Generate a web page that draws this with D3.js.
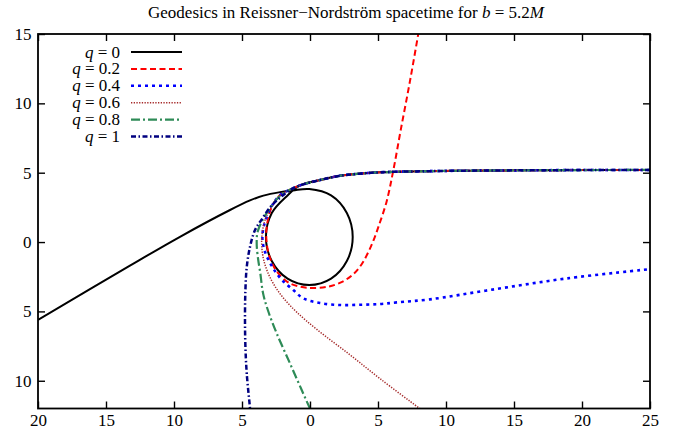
<!DOCTYPE html>
<html>
<head>
<meta charset="utf-8">
<script src="https://cdn.jsdelivr.net/npm/d3@7/dist/d3.min.js"></script>
<style>
  html, body { margin: 0; padding: 0; background: #fff; }
  svg { display: block; }
  text { font-family: "Liberation Serif", "Times New Roman", serif; fill: #000; }
</style>
</head>
<body>
<svg id="chart" width="678" height="429"></svg>
<script>
// Axis ranges and ticks
const xDomain = [-20, 25];
const yDomain = [-12, 15];
const xTicks = [-20, -15, -10, -5, 0, 5, 10, 15, 20, 25];
const yTicks = [-10, -5, 0, 5, 10, 15];

// Incoming path shared by all trajectories, arriving from the right at y ≈ b
const approach = [
  [25, 5.2], [20, 5.19], [15, 5.17], [11, 5.14], [8, 5.1], [5.15, 5.03],
  [3.5, 4.92], [2.2, 4.78], [0.74, 4.47], [-0.74, 4.08]
];

// q = 0: loop around the photon sphere, then escape to the lower left
const q0 = approach.concat([
  [-1.65, 3.36], [-2.81, 2.09], [-3.24, 0.36], [-2.81, -1.37], [-1.65, -2.64],
  [-0.05, -3.10], [1.55, -2.64], [2.71, -1.37], [3.14, 0.36], [2.71, 2.09],
  [1.55, 3.36], [-0.05, 3.82], [-1.25, 3.72], [-2.2, 3.6], [-3.43, 3.35],
  [-4.41, 3.0], [-5.88, 2.31], [-9.56, 0.38], [-13.24, -1.7], [-20, -5.62]
]);

// q = 0.2
const q02 = approach.concat([
  [-1.47, 3.78], [-2.2, 3.39], [-2.75, 2.65], [-3.05, 1.8], [-3.2, 0.9],
  [-3.2, 0.1], [-3.05, -0.8], [-2.75, -1.6], [-2.33, -2.26], [-1.47, -2.98],
  [-0.25, -3.29], [1.3, -3.22], [2.4, -2.85], [3.2, -2.3], [3.8, -1.6],
  [4.3, -0.7], [4.7, 0.2], [5.05, 1.15], [5.64, 2.95], [6.13, 5.19],
  [6.67, 8.07], [7.35, 11.6], [7.96, 15], [8.3, 17]
]);

// q = 0.4
const q04 = approach.concat([
  [-1.47, 3.78], [-2.2, 3.39], [-2.75, 2.7], [-3.15, 1.9], [-3.43, 0.99],
  [-3.5, 0.2], [-3.31, -0.7], [-2.94, -1.5], [-2.5, -2.2], [-2.0, -2.8],
  [-1.23, -3.46], [-0.49, -4.06], [0.74, -4.4], [2.2, -4.54], [3.7, -4.52],
  [5.15, -4.47], [6.37, -4.35], [8.82, -4.13], [13.2, -3.46], [18.9, -2.62],
  [25, -1.95]
]);

// q = 0.6
const q06 = approach.concat([
  [-1.47, 3.78], [-2.2, 3.37], [-2.8, 2.6], [-3.3, 1.6], [-3.52, 0.6],
  [-3.55, -0.2], [-3.43, -1.18], [-3.1, -2.2], [-2.57, -3.2], [-1.9, -4.1],
  [-0.98, -5.05], [0.5, -6.3], [2.9, -8.1], [5.15, -9.85], [7.96, -11.92],
  [8.5, -12.3]
]);

// q = 0.8
const q08 = approach.concat([
  [-1.47, 3.78], [-2.2, 3.33], [-2.9, 2.5], [-3.4, 1.75], [-3.85, 0.75],
  [-3.92, -0.1], [-3.82, -1.2], [-3.66, -2.2], [-3.45, -3.7], [-3.1, -4.9],
  [-2.45, -6.58], [-1.47, -8.75], [-0.61, -10.67], [0, -12], [0.2, -12.4]
]);

// q = 1
const q1 = approach.concat([
  [-1.47, 3.75], [-2.2, 3.2], [-2.94, 2.5], [-3.5, 1.7], [-4.04, 0.87],
  [-4.41, -0.34], [-4.65, -1.8], [-4.75, -3.5], [-4.78, -5.5], [-4.75, -7.5],
  [-4.65, -9.5], [-4.41, -12], [-4.38, -12.4]
]);

const seriesValues = ["0", "0.2", "0.4", "0.6", "0.8", "1"];
const seriesData = [q0, q02, q04, q06, q08, q1];

// Drawing styles for each series
const styles = [
  { color: "#000000", width: 2.0, dash: null },
  { color: "#ff0000", width: 2.0, dash: "6,3.5" },
  { color: "#0000ff", width: 2.6, dash: "3,4" },
  { color: "#a52a2a", width: 1.5, dash: "1.3,1.4" },
  { color: "#2e8b57", width: 2.2, dash: "9,3,2,3" },
  { color: "#000080", width: 2.5, dash: "5,2.5,1.5,2.5" }
];

const svg = d3.select("#chart");
const W = 678, H = 429;
const m = { left: 38, right: W - 650, top: 34, bottom: H - 408.5 };
const fontSize = "17px";

const x = d3.scaleLinear().domain(xDomain).range([m.left, W - m.right]);
const y = d3.scaleLinear().domain(yDomain).range([H - m.bottom, m.top]);

svg.append("defs").append("clipPath").attr("id", "plotclip")
  .append("rect")
  .attr("x", x(xDomain[0])).attr("y", y(yDomain[1]))
  .attr("width", x(xDomain[1]) - x(xDomain[0]))
  .attr("height", y(yDomain[0]) - y(yDomain[1]));

// Title
const title = svg.append("text")
  .attr("x", 346).attr("y", 17.5)
  .attr("text-anchor", "middle")
  .style("font-size", fontSize);
title.append("tspan").text("Geodesics in Reissner\u2212Nordstr\u00f6m spacetime for ");
title.append("tspan").style("font-style", "italic").text("b");
title.append("tspan").text(" = 5.2");
title.append("tspan").style("font-style", "italic").text("M");

// Curves
const line = d3.line()
  .x(d => x(d[0])).y(d => y(d[1]))
  .curve(d3.curveCatmullRom.alpha(0.5));

const curves = svg.append("g").attr("clip-path", "url(#plotclip)");
seriesData.forEach((data, i) => {
  const s = styles[i];
  curves.append("path")
    .attr("d", line(data))
    .attr("fill", "none")
    .attr("stroke", s.color)
    .attr("stroke-width", s.width)
    .attr("stroke-dasharray", s.dash)
    .attr("stroke-linejoin", "round");
});

// Axes: ticks pointing inward on all four sides, labels without the minus glyph
const fmt = d => String(Math.abs(d));
const tickLen = 7;
const axisStyle = g => {
  g.select(".domain").remove();
  g.selectAll(".tick line").attr("stroke", "#000").attr("stroke-width", 1.4);
  g.selectAll(".tick text").style("font-size", fontSize)
    .style("font-family", "'Liberation Serif', 'Times New Roman', serif");
};

svg.append("g").attr("transform", `translate(0,${y(yDomain[0])})`)
  .call(d3.axisBottom(x).tickValues(xTicks).tickFormat(fmt).tickSizeInner(-tickLen).tickPadding(5.5))
  .call(axisStyle);
svg.append("g").attr("transform", `translate(0,${y(yDomain[1])})`)
  .call(d3.axisTop(x).tickValues(xTicks).tickFormat("").tickSizeInner(-tickLen))
  .call(axisStyle);
svg.append("g").attr("transform", `translate(${x(xDomain[0])},0)`)
  .call(d3.axisLeft(y).tickValues(yTicks).tickFormat(fmt).tickSizeInner(-tickLen).tickPadding(6.5))
  .call(axisStyle);
svg.append("g").attr("transform", `translate(${x(xDomain[1])},0)`)
  .call(d3.axisRight(y).tickValues(yTicks).tickFormat("").tickSizeInner(-tickLen))
  .call(axisStyle);

// Frame
svg.append("rect")
  .attr("x", x(xDomain[0])).attr("y", y(yDomain[1]))
  .attr("width", x(xDomain[1]) - x(xDomain[0]))
  .attr("height", y(yDomain[0]) - y(yDomain[1]))
  .attr("fill", "none").attr("stroke", "#000").attr("stroke-width", 1.8);

// Legend
const legend = svg.append("g");
seriesValues.forEach((v, i) => {
  const cy = 52 + i * 16.9;
  const t = legend.append("text")
    .attr("x", 120).attr("y", cy + 5.5)
    .attr("text-anchor", "end")
    .style("font-size", fontSize);
  t.append("tspan").style("font-style", "italic").text("q");
  t.append("tspan").text(" = " + v);
  const s = styles[i];
  legend.append("line")
    .attr("x1", 131).attr("x2", 182).attr("y1", cy).attr("y2", cy)
    .attr("stroke", s.color)
    .attr("stroke-width", s.width)
    .attr("stroke-dasharray", s.dash);
});
</script>
</body>
</html>
